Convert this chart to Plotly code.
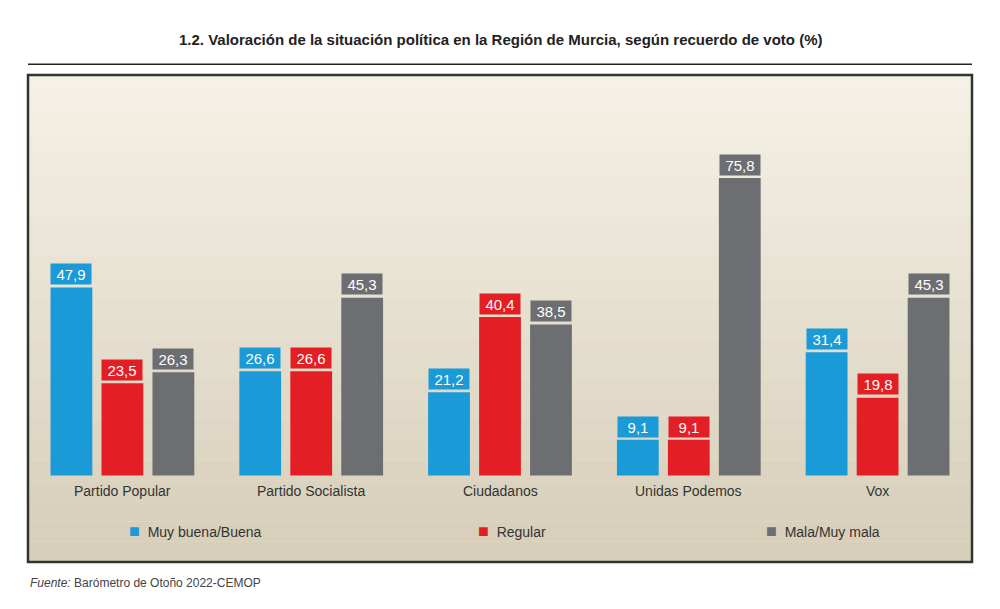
import plotly.graph_objects as go

categories = ["Partido Popular", "Partido Socialista", "Ciudadanos", "Unidas Podemos", "Vox"]
series_names = ["Muy buena/Buena", "Regular", "Mala/Muy mala"]
buena = [47.9, 26.6, 21.2, 9.1, 31.4]
regular = [23.5, 26.6, 40.4, 9.1, 19.8]
mala = [26.3, 45.3, 38.5, 75.8, 45.3]
colors = ["#1a9ad6", "#e31e24", "#6d6e71"]

fig = go.Figure()
xs = list(range(len(categories)))
ann = []
pitch = 0.81 / 3
for j, (name, vals, c) in enumerate(zip(series_names, [buena, regular, mala], colors)):
    fig.add_trace(go.Bar(x=xs, y=vals, name=name, marker_color=c, marker_line_width=0))
    for i, v in enumerate(vals):
        ann.append(dict(x=i + (j - 1) * pitch, y=v + 0.6, xref="x", yref="y", yanchor="bottom",
                        text=f"{v:.1f}".replace(".", ","), showarrow=False, bgcolor=c,
                        width=40, height=20, borderpad=0,
                        font=dict(color="white", size=15, family="Liberation Sans Narrow, Liberation Sans")))

shapes = []
n = 24
for i in range(n):
    t = i / (n - 1)
    r = int(245 - 30 * t); g = int(241 - 34 * t); b = int(230 - 44 * t)
    shapes.append(dict(type="rect", xref="paper", yref="paper", x0=0, x1=1,
                       y0=1 - (i + 1) / n, y1=1 - i / n, fillcolor=f"rgb({r},{g},{b})",
                       line_width=0, layer="below"))
shapes.append(dict(type="rect", xref="paper", yref="paper", x0=0, x1=1, y0=0, y1=1,
                   line=dict(color="#333", width=2.5)))
shapes.append(dict(type="line", xref="paper", yref="paper", x0=0, x1=1, y0=1.022, y1=1.022,
                   line=dict(color="#222", width=1.5)))

for i, c in enumerate(categories):
    ann.append(dict(x=i, y=-1.5, xref="x", yref="y", text=c, showarrow=False, yanchor="top",
                    font=dict(size=14, color="#333")))
leg_x = [0.105, 0.475, 0.78]
for lx, name, c in zip(leg_x, series_names, colors):
    ann.append(dict(x=lx, y=0.04, xref="paper", yref="paper", showarrow=False, xanchor="left",
                    text=f"<span style='color:{c};font-size:18px'>■</span>&nbsp;&nbsp;{name}",
                    font=dict(size=14, color="#333")))
ann.append(dict(x=0, y=-0.025, xref="paper", yref="paper", showarrow=False, xanchor="left", yanchor="top",
                text="<i>Fuente:</i> Barómetro de Otoño 2022-CEMOP", font=dict(size=12, color="#444")))
ann.append(dict(x=0.5, y=1.095, xref="paper", yref="paper", showarrow=False,
                text="<b>1.2. Valoración de la situación política en la Región de Murcia, según recuerdo de voto (%)</b>",
                font=dict(size=15, color="#222", family="Liberation Sans Narrow, Liberation Sans")))

fig.update_layout(
    width=1000, height=609, paper_bgcolor="white", plot_bgcolor="#ece6d6",
    margin=dict(l=20, r=36, t=67, b=55),
    barmode="group", bargap=0.19, bargroupgap=0.18,
    showlegend=False, shapes=shapes, annotations=ann,
    font=dict(family="Liberation Sans"),
    xaxis=dict(visible=False, range=[-0.5, 4.5]),
    yaxis=dict(visible=False, range=[-22, 102]),
)
fig.write_html("out.html")
